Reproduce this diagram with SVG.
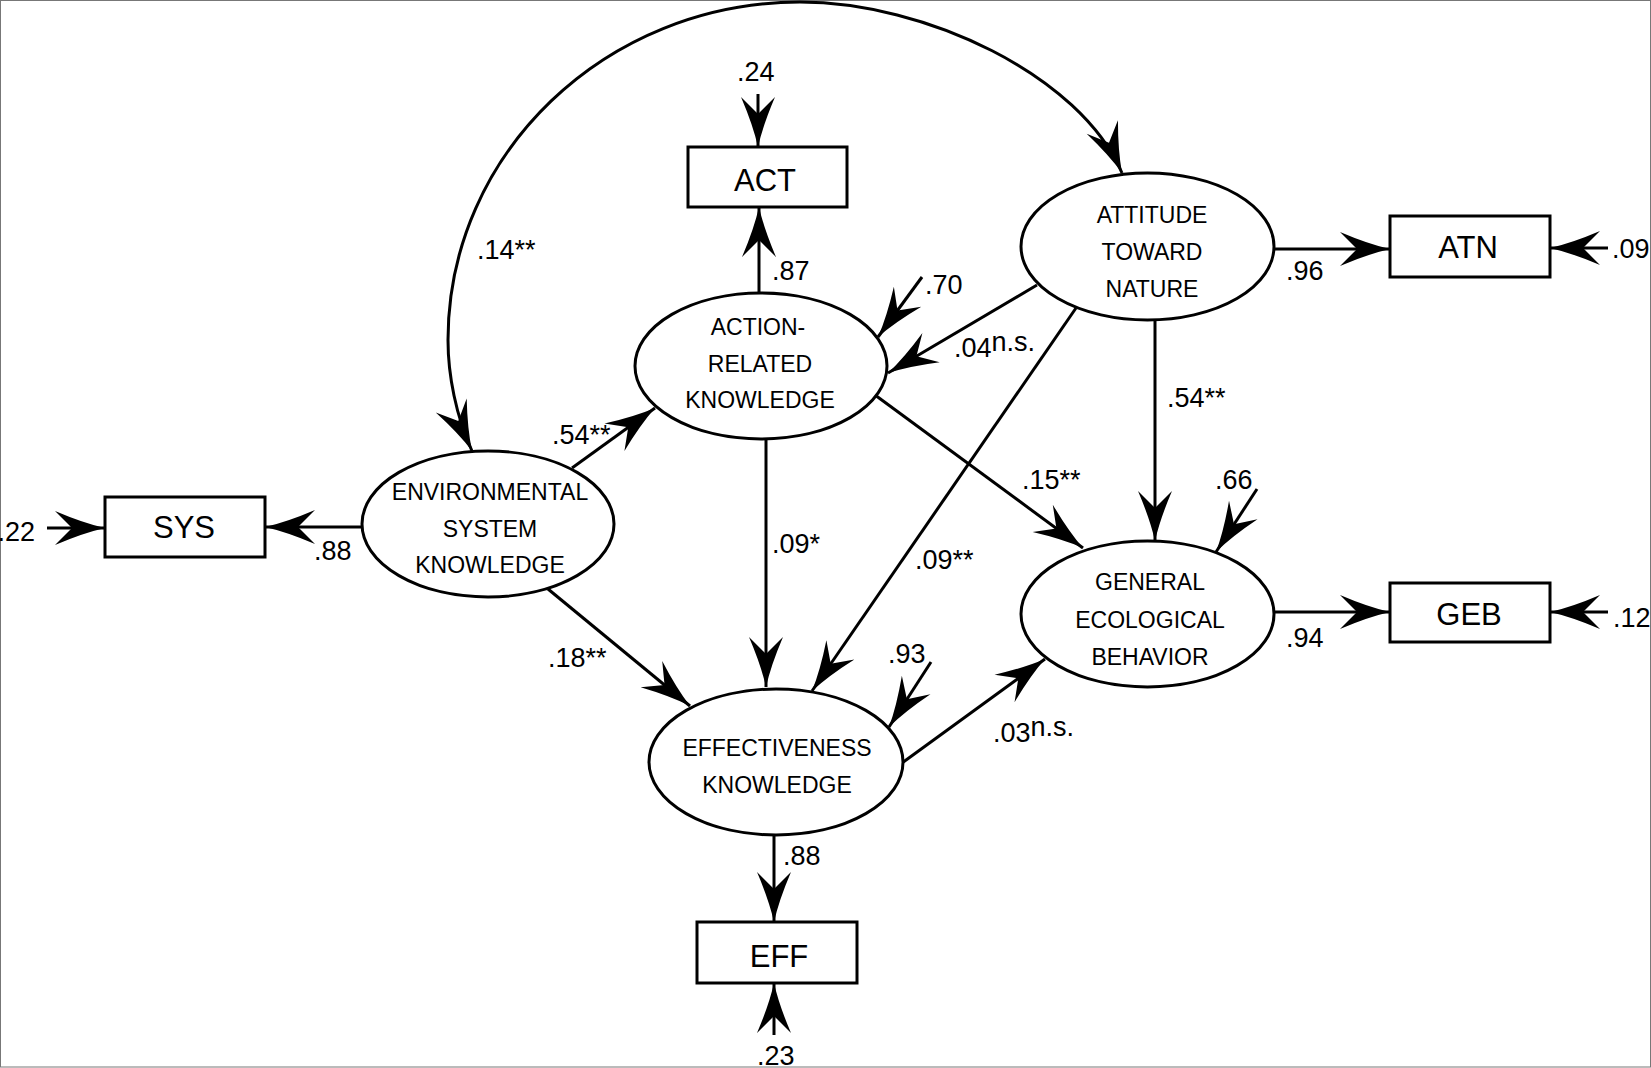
<svg xmlns="http://www.w3.org/2000/svg" width="1651" height="1068" viewBox="0 0 1651 1068">
<style>
.node ellipse, .node rect { fill: #fff; stroke: #000; stroke-width: 3; }
.nt { font-family: "Liberation Sans", Arial, sans-serif; font-size: 23px; text-anchor: middle; fill: #000; }
.bt { font-family: "Liberation Sans", Arial, sans-serif; font-size: 31px; text-anchor: middle; fill: #000; }
.lb { font-family: "Liberation Sans", Arial, sans-serif; font-size: 27px; fill: #000; }
.edges path, .edges line { fill: none; stroke: #000; stroke-width: 3; marker-end: url(#ah); }
</style>
<defs>
<marker id="ah" markerWidth="60" markerHeight="40" viewBox="-55 -20 60 40" refX="0" refY="0" orient="auto-start-reverse" markerUnits="userSpaceOnUse">
<path d="M0,0 Q-22,-5 -50,-17 L-33,0 L-50,17 Q-22,5 0,0 Z" fill="#000" stroke="none"/>
</marker>
</defs>
<rect x="0" y="0" width="1651" height="1068" fill="#fff"/>
<rect x="0.5" y="0.5" width="1650" height="1066.5" fill="none" stroke="#777" stroke-width="1"/>

<g class="edges" id="connectors">
<path d="M472,451 C456,416 448,375 448,340 C448,153 606,2 800,2 C925,2 1080,75 1122,173" style="marker-start:url(#ah)"/>
<line x1="362" y1="527" x2="265" y2="527"/>
<line x1="47" y1="528" x2="105" y2="528"/>
<line x1="572" y1="468" x2="655" y2="408"/>
<line x1="548" y1="589" x2="690" y2="706"/>
<line x1="759" y1="293" x2="759" y2="207"/>
<line x1="758" y1="94" x2="758" y2="147"/>
<line x1="922" y1="277" x2="878" y2="337"/>
<line x1="1037" y1="285" x2="888" y2="373"/>
<line x1="766" y1="440" x2="766" y2="687"/>
<line x1="875" y1="395" x2="1083" y2="548"/>
<line x1="1076" y1="308" x2="812" y2="691"/>
<line x1="1155" y1="320" x2="1155" y2="541"/>
<line x1="1272" y1="249" x2="1390" y2="249"/>
<line x1="1608" y1="248" x2="1550" y2="248"/>
<line x1="1257" y1="489" x2="1216" y2="552"/>
<line x1="1274" y1="612" x2="1390" y2="612"/>
<line x1="1608" y1="612" x2="1550" y2="612"/>
<line x1="931" y1="662" x2="889" y2="727"/>
<line x1="902" y1="763" x2="1045" y2="659"/>
<line x1="774" y1="835" x2="774" y2="922"/>
<line x1="774" y1="1035" x2="774" y2="983"/>
</g>

<g class="node" id="env">
<ellipse cx="488" cy="524" rx="126" ry="73"/>
<text class="nt" x="490" y="500">ENVIRONMENTAL</text>
<text class="nt" x="490" y="537">SYSTEM</text>
<text class="nt" x="490" y="573">KNOWLEDGE</text>
</g>
<g class="node" id="action">
<ellipse cx="761" cy="366" rx="126" ry="73"/>
<text class="nt" x="758" y="335">ACTION-</text>
<text class="nt" x="760" y="372">RELATED</text>
<text class="nt" x="760" y="408">KNOWLEDGE</text>
</g>
<g class="node" id="attitude">
<ellipse cx="1147.5" cy="246.5" rx="126.5" ry="73.5"/>
<text class="nt" x="1152" y="223">ATTITUDE</text>
<text class="nt" x="1152" y="260">TOWARD</text>
<text class="nt" x="1152" y="297">NATURE</text>
</g>
<g class="node" id="general">
<ellipse cx="1147.5" cy="614" rx="126.5" ry="73"/>
<text class="nt" x="1150" y="590">GENERAL</text>
<text class="nt" x="1150" y="628">ECOLOGICAL</text>
<text class="nt" x="1150" y="665">BEHAVIOR</text>
</g>
<g class="node" id="effectiveness">
<ellipse cx="776" cy="762" rx="127" ry="73"/>
<text class="nt" x="777" y="756">EFFECTIVENESS</text>
<text class="nt" x="777" y="793">KNOWLEDGE</text>
</g>
<g class="node" id="act">
<rect x="688" y="147" width="159" height="60"/>
<text class="bt" x="765" y="191">ACT</text>
</g>
<g class="node" id="sys">
<rect x="105" y="497" width="160" height="60"/>
<text class="bt" x="184" y="538">SYS</text>
</g>
<g class="node" id="atn">
<rect x="1390" y="216" width="160" height="61"/>
<text class="bt" x="1468" y="258">ATN</text>
</g>
<g class="node" id="geb">
<rect x="1390" y="583" width="160" height="59"/>
<text class="bt" x="1469" y="625">GEB</text>
</g>
<g class="node" id="eff">
<rect x="697" y="922" width="160" height="61"/>
<text class="bt" x="779" y="967">EFF</text>
</g>

<g id="labels">
<text class="lb" x="737" y="81">.24</text>
<text class="lb" x="772" y="280">.87</text>
<text class="lb" x="925" y="294">.70</text>
<text class="lb" x="477" y="259">.14**</text>
<text class="lb" x="954" y="357">.04<tspan dy="-6">n.s.</tspan></text>
<text class="lb" x="552" y="444">.54**</text>
<text class="lb" x="35" y="541" text-anchor="end">.22</text>
<text class="lb" x="314" y="560">.88</text>
<text class="lb" x="772" y="553">.09*</text>
<text class="lb" x="1022" y="489">.15**</text>
<text class="lb" x="915" y="569">.09**</text>
<text class="lb" x="1167" y="407">.54**</text>
<text class="lb" x="1286" y="280">.96</text>
<text class="lb" x="1612" y="258">.09</text>
<text class="lb" x="1215" y="489">.66</text>
<text class="lb" x="1286" y="647">.94</text>
<text class="lb" x="1613" y="627">.12</text>
<text class="lb" x="548" y="667">.18**</text>
<text class="lb" x="888" y="663">.93</text>
<text class="lb" x="993" y="742">.03<tspan dy="-6">n.s.</tspan></text>
<text class="lb" x="783" y="865">.88</text>
<text class="lb" x="757" y="1065">.23</text>
</g>
</svg>
